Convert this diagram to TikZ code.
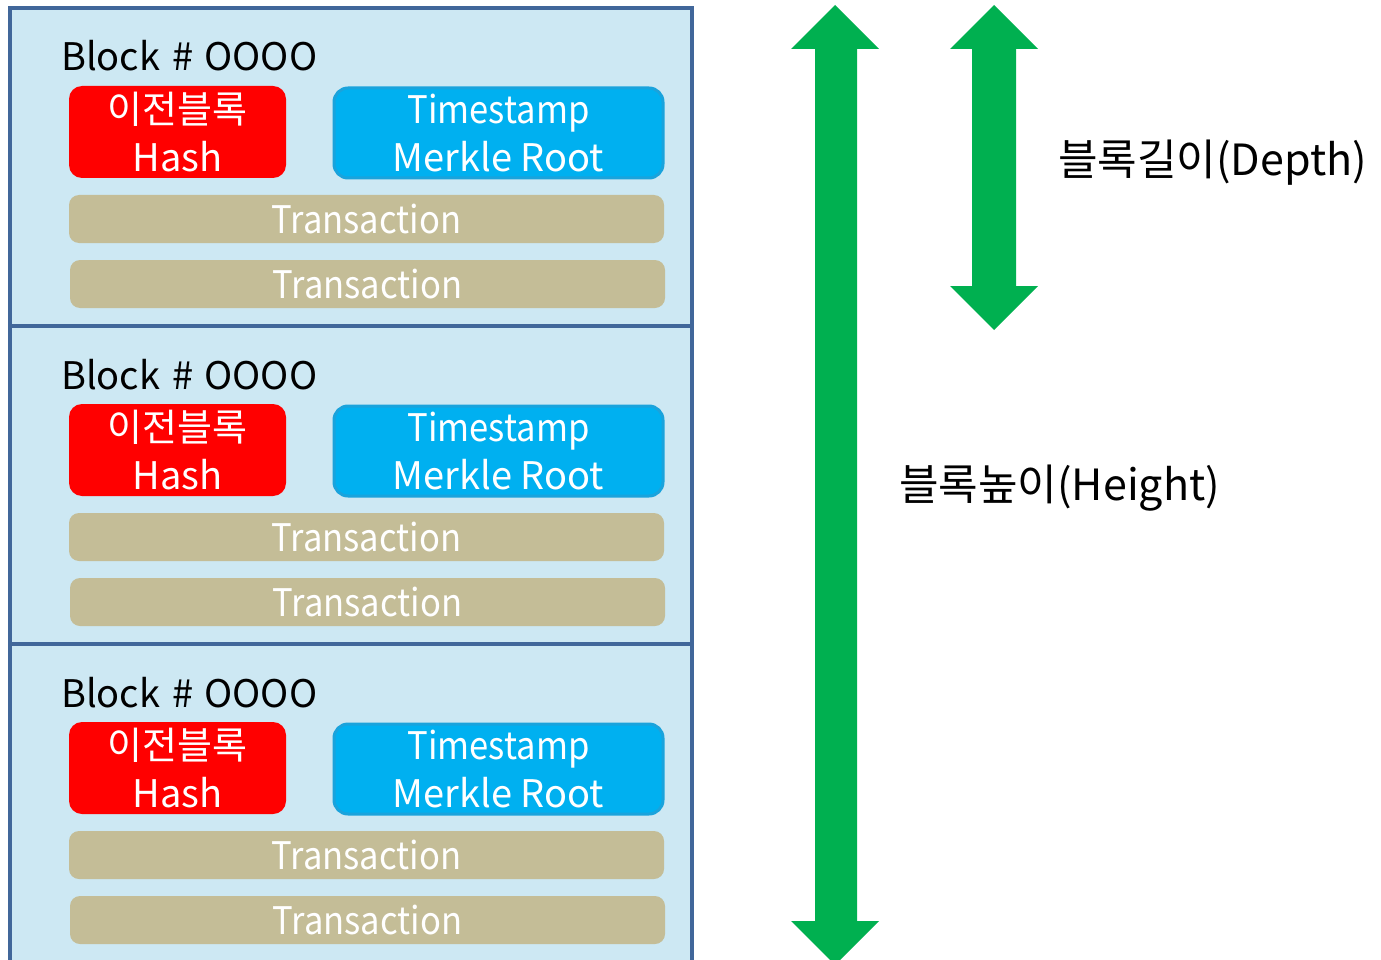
\documentclass[tikz,border=0pt]{standalone}
\usepackage{fontspec}
\setmainfont{Noto Sans CJK KR}
\newfontfamily\narrowfont[FakeStretch=0.91]{Noto Sans CJK KR}
\definecolor{frameblue}{HTML}{41679A}
\definecolor{framefill}{HTML}{CDE8F3}
\definecolor{hashred}{HTML}{FF0000}
\definecolor{metablue}{HTML}{00B0F0}
\definecolor{metaedge}{HTML}{1AA3DC}
\definecolor{txtan}{HTML}{C4BD97}
\definecolor{arrowgreen}{HTML}{00B050}
\tikzset{
  blockframe/.style={draw=frameblue, line width=4pt, fill=framefill, minimum width=682pt, minimum height=318pt, inner sep=0pt},
  bigfont/.style={font=\fontsize{38}{48}\selectfont},
  hashbox/.style={bigfont, fill=hashred, text=white, rounded corners=13pt, minimum width=217pt, minimum height=92pt, inner sep=0pt, align=center},
  metabox/.style={bigfont, fill=metablue, draw=metaedge, line width=3pt, text=white, rounded corners=14pt, minimum width=329pt, minimum height=90pt, inner sep=0pt, align=center},
  txbox/.style={font=\narrowfont\fontsize{38}{48}\selectfont, fill=txtan, text=white, rounded corners=10pt, minimum width=595pt, minimum height=48pt, inner sep=0pt},
  blocklabel/.style={bigfont, text=black, inner sep=0pt, anchor=base west},
  sidelabel/.style={font=\fontsize{43}{50}\selectfont, text=black, inner sep=0pt, anchor=west},
  greenarrow/.style={fill=arrowgreen, draw=none}
}
\begin{document}
\begin{tikzpicture}[x=1pt,y=-1pt]
\clip (0,0) rectangle (1381,960);
\fill[white] (0,0) rectangle (1381,960);
\foreach \i in {0,1,2}{
  \pgfmathsetmacro\oy{318*\i}
  \node[blockframe] (frame\i) at (351,{167+\oy}) {};
  \node[blocklabel] (label\i) at (61,{71+\oy}) {Block\hspace{12pt}\#\hspace{11pt}OOOO};
  \node[hashbox] (hash\i) at (177.5,{132+\oy}) {이전블록\\Hash};
  \node[metabox] (meta\i) at (498.5,{133+\oy}) {{\narrowfont Timestamp}\\Merkle Root};
  \node[txbox] (txa\i) at (366.5,{219+\oy}) {Transaction};
  \node[txbox] (txb\i) at (367.5,{284+\oy}) {Transaction};
}
% height arrow
\fill[greenarrow] (835,5) -- (791,49) -- (815,49) -- (815,921) -- (791,921) -- (835,965)
  -- (879,921) -- (857,921) -- (857,49) -- (879,49) -- cycle;
% depth arrow
\fill[greenarrow] (994,5) -- (950,49) -- (972,49) -- (972,286) -- (950,286) -- (994,330)
  -- (1038,286) -- (1016,286) -- (1016,49) -- (1038,49) -- cycle;
\node[sidelabel] (depth) at (1058,163) {블록길이(Depth)};
\node[sidelabel] (height) at (899,488) {블록높이(Height)};
\end{tikzpicture}
\end{document}
